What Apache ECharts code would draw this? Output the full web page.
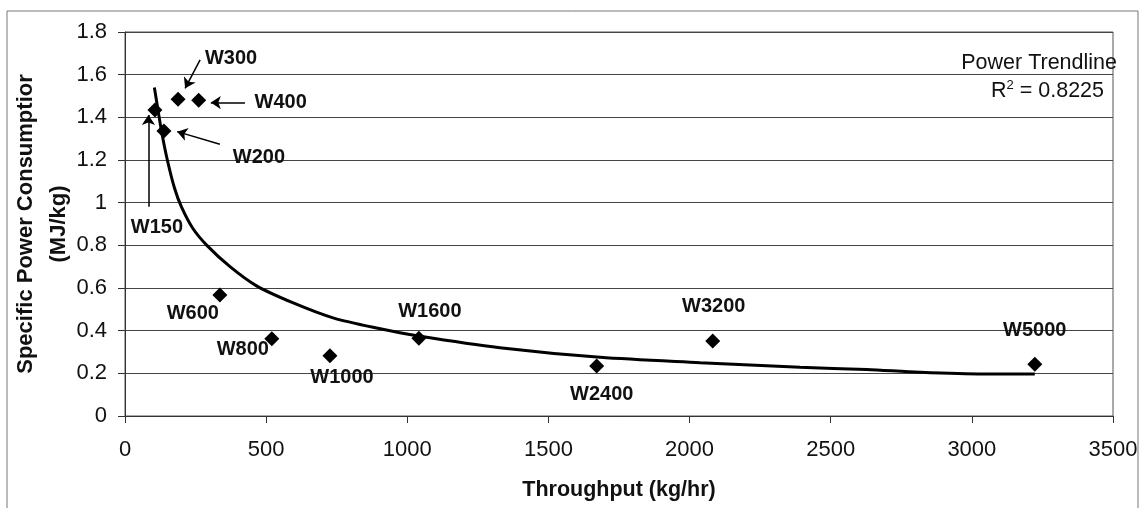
<!DOCTYPE html>
<html>
<head>
<meta charset="utf-8">
<script src="https://cdn.jsdelivr.net/npm/echarts@6/dist/echarts.min.js"></script>
<style>
  html, body { margin: 0; padding: 0; background: #fff; }
  #chart { width: 1141px; height: 508px; }
</style>
</head>
<body>
<div id="chart"></div>
<script>
// machine sizes and measured points
const models = ['W150', 'W200', 'W300', 'W400', 'W600', 'W800', 'W1000', 'W1600', 'W2400', 'W3200', 'W5000'];
const throughput = [106, 138, 188, 261, 336, 520, 726, 1041, 1671, 2082, 3223];
const specificPower = [1.434, 1.336, 1.485, 1.48, 0.567, 0.362, 0.283, 0.364, 0.234, 0.352, 0.242];

// label offset from its point (px)
const labelOffsets = [[2, 117], [95, 26], [53, -41], [82, 2], [-27, 18], [-29, 11], [12, 22], [11, -27], [5, 28], [1, -34], [0, -34]];

// power trendline
const trendX = [104, 115, 130, 150, 175, 200, 240, 290, 372, 466, 596, 737, 900, 1041, 1328, 1683, 2037, 2391, 2627, 2816, 3040, 3223];
const trendY = [1.54, 1.45, 1.33, 1.20, 1.07, 0.98, 0.88, 0.80, 0.70, 0.61, 0.53, 0.46, 0.41, 0.375, 0.32, 0.275, 0.25, 0.228, 0.218, 0.205, 0.197, 0.197];

// callout arrows (data coords): from -> to
const arrowFrom = [[83, 0.981], [336, 1.274], [266, 1.669], [425, 1.469]];
const arrowTo = [[83, 1.411], [185, 1.333], [213, 1.536], [304, 1.469]];

const font = "'Liberation Sans', Arial, sans-serif";

const chart = echarts.init(document.getElementById('chart'));

const option = {
  backgroundColor: '#fff',
  animation: false,
  textStyle: { fontFamily: font },
  title: [
    {
      text: 'Power Trendline',
      right: 24, top: 52, padding: 0,
      textStyle: { fontFamily: font, fontWeight: 'normal', fontSize: 21.5, color: '#111' }
    },
    {
      text: '{r|R}{s|2}{r| = 0.8225}',
      right: 37, top: 79, padding: 0,
      textStyle: {
        fontFamily: font,
        fontWeight: 'normal',
        rich: {
          r: { fontFamily: font, fontWeight: 'normal', fontSize: 21.5, color: '#111', verticalAlign: 'bottom' },
          s: { fontFamily: font, fontWeight: 'normal', fontSize: 13, color: '#111', verticalAlign: 'top', padding: [0, 0, 10, 0] }
        }
      }
    }
  ],
  graphic: [{
    type: 'rect',
    shape: { x: 7, y: 11, width: 1131, height: 520 },
    style: { fill: 'none', stroke: '#777', lineWidth: 1 },
    silent: true
  }],
  grid: {
    left: 125, right: 28, top: 32, bottom: 92,
    containLabel: false,
    outerBoundsMode: 'none',
    show: true, borderColor: '#555', borderWidth: 1
  },
  xAxis: {
    type: 'value',
    min: 0, max: 3500, interval: 500,
    name: 'Throughput (kg/hr)',
    nameLocation: 'middle',
    nameGap: 63,
    nameMoveOverlap: false,
    nameTextStyle: { fontFamily: font, fontWeight: 'bold', fontSize: 21.5, color: '#111' },
    axisLine: { show: true, lineStyle: { color: '#333', width: 1 } },
    axisTick: { show: true, length: 7, lineStyle: { color: '#333' } },
    axisLabel: { fontFamily: font, fontSize: 22, color: '#111', margin: 23, formatter: v => String(v) },
    splitLine: { show: false }
  },
  yAxis: {
    type: 'value',
    min: 0, max: 1.8, interval: 0.2,
    name: 'Specific Power Consumptior\n(MJ/kg)',
    nameLocation: 'middle',
    nameGap: 50,
    nameMoveOverlap: false,
    nameRotate: 90,
    nameTextStyle: { fontFamily: font, fontWeight: 'bold', fontSize: 22, color: '#111', lineHeight: 33 },
    axisLine: { show: true, lineStyle: { color: '#333', width: 1 } },
    axisTick: { show: true, length: 7, lineStyle: { color: '#333' } },
    axisLabel: { fontFamily: font, fontSize: 22, color: '#111', margin: 18, formatter: v => String(+v.toFixed(1)) },
    splitLine: { show: true, lineStyle: { color: '#444', width: 1 } }
  },
  series: [
    {
      name: 'Power Trendline',
      type: 'line',
      data: trendX.map((x, i) => [x, trendY[i]]),
      showSymbol: false,
      smooth: 0.3,
      lineStyle: { color: '#000', width: 3 },
      z: 2,
      silent: true,
      markLine: {
        silent: true,
        symbol: ['none', 'arrow'],
        symbolSize: 10,
        label: { show: false },
        lineStyle: { color: '#000', width: 1.5, type: 'solid' },
        data: arrowFrom.map((f, i) => [{ coord: f }, { coord: arrowTo[i] }])
      }
    },
    {
      name: 'Measured',
      type: 'scatter',
      symbol: 'diamond',
      symbolSize: 15,
      itemStyle: { color: '#000', opacity: 1 },
      z: 3,
      label: {
        show: true,
        position: 'inside',
        fontFamily: font,
        fontWeight: 'bold',
        fontSize: 20,
        color: '#111',
        formatter: p => models[p.dataIndex]
      },
      data: throughput.map((x, i) => ({
        value: [x, specificPower[i]],
        label: { offset: labelOffsets[i] }
      }))
    }
  ]
};

chart.setOption(option);
</script>
</body>
</html>
